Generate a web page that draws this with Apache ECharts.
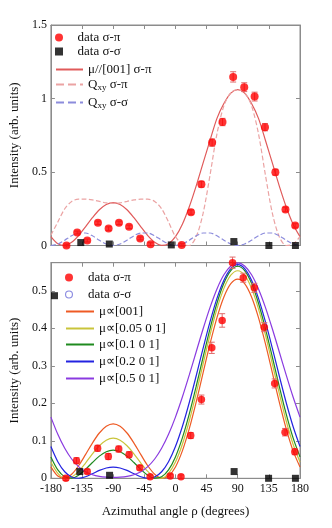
<!DOCTYPE html>
<html>
<head>
<meta charset="utf-8">
<script src="https://cdn.jsdelivr.net/npm/echarts@6/dist/echarts.min.js"></script>
<style>
html, body { margin: 0; padding: 0; background: #fff; }
#chart { width: 332px; height: 528px; }
</style>
</head>
<body>
<div id="chart"></div>
<script>
// angles for the fitted curves (degrees)
var curveAngles = [-180, -170, -160, -150, -140, -130, -120, -110, -100, -90, -80, -70, -60, -50, -40, -30, -20, -10, 0,
    10, 20, 30, 40, 50, 60, 70, 80, 90, 100, 110, 120, 130, 140, 150, 160, 170, 180];
var xTicks = [-180, 180, 45];

// ---- top panel ----
var topPiAngle = [-157.5, -142, -127.5, -112, -96.6, -81.6, -67, -51, -36, 9, 22.5, 37.5, 53, 68, 83.4, 99.4, 114.4, 129.4, 144.4, 159, 173];
var topPiValue = [0, 0.088, 0.034, 0.154, 0.115, 0.154, 0.127, 0.048, 0.009, 0.004, 0.227, 0.417, 0.70, 0.84, 1.147, 1.077, 1.013, 0.805, 0.499, 0.245, 0.136];
var topPiErr = [0.01, 0.01, 0.01, 0.012, 0.012, 0.012, 0.012, 0.01, 0.01, 0.01, 0.015, 0.02, 0.025, 0.025, 0.035, 0.03, 0.03, 0.025, 0.02, 0.015, 0.012];
var topSigAngle = [-136.8, -95.6, -6, 84.4, 135, 173.4];
var topSigValue = [0.02, 0.01, 0.004, 0.027, 0, 0];

var topMu001 = [0.060, 0.0118, 0.0006, 0.0218, 0.0674, 0.127, 0.189, 0.243, 0.279, 0.292,
    0.279, 0.243, 0.189, 0.127, 0.0674, 0.0218, 0.0006, 0.0118, 0.060,
    0.145, 0.264, 0.406, 0.562, 0.716, 0.865, 0.966, 1.037, 1.061,
    1.037, 0.966, 0.865, 0.716, 0.562, 0.406, 0.264, 0.145, 0.060];
var topQxyPi = [0.07, 0.16, 0.25, 0.30, 0.315, 0.315, 0.31, 0.30, 0.29, 0.287,
    0.29, 0.30, 0.31, 0.315, 0.315, 0.30, 0.25, 0.16, 0.06,
    0.01, 0.0, 0.06, 0.22, 0.48, 0.76, 0.95, 1.04, 1.06,
    1.04, 0.95, 0.76, 0.48, 0.22, 0.06, 0.0, 0.01, 0.06];
var topQxySig = [0, 0.010, 0.036, 0.066, 0.085, 0.085, 0.066, 0.036, 0.010, 0,
    0.010, 0.036, 0.066, 0.085, 0.085, 0.066, 0.036, 0.010, 0,
    0.010, 0.036, 0.066, 0.085, 0.085, 0.066, 0.036, 0.010, 0,
    0.010, 0.036, 0.066, 0.085, 0.085, 0.066, 0.036, 0.010, 0];

// ---- bottom panel ----
var botPiAngle = [-158.4, -143, -127.5, -112.5, -97, -82, -67, -51.6, -36.6, -7.5, 8, 22, 37.5, 52.5, 67.5, 82.5, 98, 114, 128.4, 143.4, 158.4, 172.5];
var botPiValue = [0, 0.047, 0.018, 0.08, 0.058, 0.078, 0.063, 0.028, 0.004, 0.006, 0.004, 0.114, 0.21, 0.348, 0.421, 0.575, 0.535, 0.508, 0.403, 0.253, 0.123, 0.071];
var botPiErr = [0.006, 0.008, 0.006, 0.008, 0.008, 0.008, 0.008, 0.006, 0.005, 0.005, 0.005, 0.008, 0.012, 0.015, 0.018, 0.015, 0.012, 0.012, 0.012, 0.012, 0.01, 0.008];
var botSigAngle = [-174.8, -138.3, -95.2, 84.8, 134.6, 173.4];
var botSigValue = [0.487, 0.018, 0.008, 0.018, 0, 0];

var bot001 = [0.0303, 0.0060, 0.0002, 0.0107, 0.0334, 0.0631, 0.0940, 0.1208, 0.1388, 0.1452,
    0.1388, 0.1208, 0.0940, 0.0631, 0.0334, 0.0107, 0.0002, 0.0060, 0.0303,
    0.0731, 0.1323, 0.2039, 0.2817, 0.3589, 0.4285, 0.4837, 0.5193, 0.5314,
    0.5193, 0.4837, 0.4285, 0.3589, 0.2817, 0.2039, 0.1323, 0.0731, 0.0303];
var bot005 = [0.0435, 0.0133, 0.0006, 0.0035, 0.0184, 0.0407, 0.0651, 0.0868, 0.1017, 0.1069,
    0.1017, 0.0868, 0.0651, 0.0407, 0.0184, 0.0035, 0.0006, 0.0133, 0.0435,
    0.0909, 0.1534, 0.2269, 0.3055, 0.3828, 0.4519, 0.5065, 0.5416, 0.5535,
    0.5416, 0.5065, 0.4519, 0.3828, 0.3055, 0.2269, 0.1534, 0.0909, 0.0435];
var bot01 = [0.0571, 0.0225, 0.0040, 0.0003, 0.0082, 0.0237, 0.0421, 0.0591, 0.0709, 0.0751,
    0.0709, 0.0591, 0.0421, 0.0237, 0.0082, 0.0003, 0.0040, 0.0225, 0.0571,
    0.1077, 0.1717, 0.2455, 0.3235, 0.3994, 0.4669, 0.5200, 0.5538, 0.5655,
    0.5538, 0.5200, 0.4669, 0.3994, 0.3235, 0.2455, 0.1717, 0.1077, 0.0571];
var bot02 = [0.0847, 0.0443, 0.0175, 0.0035, 0.0001, 0.0041, 0.0123, 0.0210, 0.0275, 0.0299,
    0.0275, 0.0210, 0.0123, 0.0041, 0.0001, 0.0035, 0.0175, 0.0443, 0.0847,
    0.1381, 0.2022, 0.2735, 0.3473, 0.4178, 0.4800, 0.5285, 0.5594, 0.5700,
    0.5594, 0.5285, 0.4800, 0.4178, 0.3473, 0.2735, 0.2022, 0.1381, 0.0847];
var bot05 = [0.1632, 0.1173, 0.0800, 0.0515, 0.0312, 0.0176, 0.0095, 0.0051, 0.0031, 0.0025,
    0.0031, 0.0051, 0.0095, 0.0176, 0.0312, 0.0515, 0.0800, 0.1173, 0.1632,
    0.2167, 0.2757, 0.3376, 0.3988, 0.4559, 0.5050, 0.5427, 0.5664, 0.5746,
    0.5664, 0.5427, 0.5050, 0.4559, 0.3988, 0.3376, 0.2757, 0.2167, 0.1632];

var FONT = 'Liberation Serif';
var AXIS_GRAY = '#8c8c8c';
var SQUARE = 'path://M0,0L10,0L10,10L0,10Z';
// thin ring, used for the open-circle legend marker
var RING = 'path://M10,5A5,5,0,1,1,0,5A5,5,0,1,1,10,5ZM8.6,5A3.6,3.6,0,1,0,1.4,5A3.6,3.6,0,1,0,8.6,5Z';

function pairs(xs, ys) {
    return xs.map(function (x, i) { return [x, ys[i]]; });
}

function errBars(xs, ys, es, gi) {
    return {
        type: 'custom', name: 'err' + gi, xAxisIndex: gi * 2, yAxisIndex: gi * 2, z: 3,
        data: xs.map(function (x, i) { return [x, ys[i] - es[i], ys[i] + es[i]]; }),
        renderItem: function (params, api) {
            var lo = api.coord([api.value(0), api.value(1)]);
            var hi = api.coord([api.value(0), api.value(2)]);
            var st = { stroke: '#e06a6a', lineWidth: 1 };
            return {
                type: 'group', children: [
                    { type: 'line', shape: { x1: lo[0], y1: lo[1], x2: hi[0], y2: hi[1] }, style: st },
                    { type: 'line', shape: { x1: lo[0] - 3, y1: lo[1], x2: lo[0] + 3, y2: lo[1] }, style: st },
                    { type: 'line', shape: { x1: hi[0] - 3, y1: hi[1], x2: hi[0] + 3, y2: hi[1] }, style: st }
                ]
            };
        }
    };
}

function curve(name, ys, gi, color, type) {
    return {
        type: 'line', name: name, xAxisIndex: gi * 2, yAxisIndex: gi * 2,
        data: pairs(curveAngles, ys), smooth: 0.3, symbol: 'none', z: 2,
        lineStyle: { color: color, width: 1.2, type: type || 'solid' },
        itemStyle: { color: color }
    };
}

function xAx(gi, pos, labels, name) {
    return {
        type: 'value', gridIndex: gi, position: pos, min: xTicks[0], max: xTicks[1], interval: xTicks[2],
        name: name || '', nameLocation: 'middle', nameGap: 27,
        nameTextStyle: { fontFamily: FONT, fontSize: 13, color: '#111' },
        axisLine: { onZero: false, lineStyle: { color: AXIS_GRAY } },
        axisTick: { inside: true, length: 4, lineStyle: { color: AXIS_GRAY } },
        axisLabel: { show: labels, margin: 5, fontFamily: FONT, fontSize: 12, color: '#111' },
        splitLine: { show: false }
    };
}

function yAx(gi, pos, labels, max, interval) {
    return {
        type: 'value', gridIndex: gi, position: pos, min: 0, max: max, interval: interval,
        name: labels ? 'Intensity (arb. units)' : '', nameLocation: 'middle', nameGap: 22,
        nameTextStyle: { fontFamily: FONT, fontSize: 13, color: '#111' },
        axisLine: { show: true, onZero: false, lineStyle: { color: AXIS_GRAY } },
        axisTick: { inside: true, length: 4, lineStyle: { color: AXIS_GRAY } },
        axisLabel: { show: labels, margin: 4, showMaxLabel: max === 1.5, fontFamily: FONT, fontSize: 12, color: '#111' },
        splitLine: { show: false }
    };
}

var legendRich = {
    n: { fontFamily: FONT, fontSize: 13, color: '#111' },
    s: { fontFamily: FONT, fontSize: 9, color: '#111', verticalAlign: 'bottom', padding: [7, 0, 0, 0] }
};

function leg(name, left, center, width, extra) {
    var item = { name: name };
    if (extra) { for (var k in extra) item[k] = extra[k]; }
    return {
        data: [item], left: left, top: center - 8, orient: 'vertical', padding: 0,
        itemWidth: width, itemHeight: 8, selectedMode: false,
        textStyle: { fontFamily: FONT, fontSize: 13, color: '#111', rich: legendRich },
        formatter: function (n) {
            if (n.indexOf('Qxy') === 0) return '{n|Q}{s|xy}{n|' + n.slice(3) + '}';
            return n;
        }
    };
}

var lineOnly = { itemStyle: { opacity: 0 } };

var option = {
    animation: false,
    backgroundColor: '#fff',
    grid: [
        { left: 44, right: 32, top: 25, height: 220.5, show: true, borderColor: AXIS_GRAY, borderWidth: 1 },
        { left: 44, right: 32, top: 262.7, height: 215.6, show: true, borderColor: AXIS_GRAY, borderWidth: 1 }
    ],
    xAxis: [xAx(0, 'bottom', false), xAx(0, 'top', false), xAx(1, 'bottom', true, 'Azimuthal angle ρ (degrees)'), xAx(1, 'top', false)],
    yAxis: [yAx(0, 'left', true, 1.5, 0.5), yAx(0, 'right', false, 1.5, 0.5), yAx(1, 'left', true, 0.575, 0.1), yAx(1, 'right', false, 0.575, 0.1)],
    legend: [
        leg('data σ-π', 55, 39, 27),
        leg('data σ-σ', 55, 53, 27, { icon: SQUARE }),
        leg('μ//[001] σ-π', 55, 71, 27, lineOnly),
        leg('Qxy σ-π', 55, 86, 27, lineOnly),
        leg('Qxy σ-σ', 55, 104, 27, lineOnly),
        leg('data σ-π', 65, 279, 28),
        leg('data σ-σ', 65, 296, 28, { icon: RING, itemStyle: { color: '#6a6ad8', borderWidth: 0 } }),
        leg('μ∝[001]', 65, 313, 28, lineOnly),
        leg('μ∝[0.05 0 1]', 65, 330, 28, lineOnly),
        leg('μ∝[0.1 0 1]', 65, 346, 28, lineOnly),
        leg('μ∝[0.2 0 1]', 65, 363, 28, lineOnly),
        leg('μ∝[0.5 0 1]', 65, 380, 28, lineOnly)
    ],
    series: [
        curve('μ//[001] σ-π', topMu001, 0, '#e05a5a'),
        curve('Qxy σ-π', topQxyPi, 0, '#eba3a3', 'dashed'),
        curve('Qxy σ-σ', topQxySig, 0, '#8c8cdc', 'dashed'),
        errBars(topPiAngle, topPiValue, topPiErr, 0),
        {
            type: 'scatter', name: 'data σ-π', xAxisIndex: 0, yAxisIndex: 0, z: 4, clip: false,
            data: pairs(topPiAngle, topPiValue), symbol: 'circle', symbolSize: 8, itemStyle: { color: '#ff0000' }
        },
        {
            type: 'scatter', name: 'data σ-σ', xAxisIndex: 0, yAxisIndex: 0, z: 4, clip: false,
            data: pairs(topSigAngle, topSigValue), symbol: 'rect', symbolSize: 7, itemStyle: { color: '#000' }
        },

        curve('μ∝[001]', bot001, 1, '#ee5a24'),
        curve('μ∝[0.05 0 1]', bot005, 1, '#c9c43a'),
        curve('μ∝[0.1 0 1]', bot01, 1, '#1f8a1f'),
        curve('μ∝[0.2 0 1]', bot02, 1, '#2323e0'),
        curve('μ∝[0.5 0 1]', bot05, 1, '#8a3ae0'),
        errBars(botPiAngle, botPiValue, botPiErr, 1),
        {
            type: 'scatter', name: 'data σ-π', xAxisIndex: 2, yAxisIndex: 2, z: 4, clip: false,
            data: pairs(botPiAngle, botPiValue), symbol: 'circle', symbolSize: 7.5, itemStyle: { color: '#ff0000' }
        },
        {
            type: 'scatter', name: 'data σ-σ', xAxisIndex: 2, yAxisIndex: 2, z: 4, clip: false,
            data: pairs(botSigAngle, botSigValue), symbol: 'rect', symbolSize: 7, itemStyle: { color: '#000' }
        }
    ]
};

var chart = echarts.init(document.getElementById('chart'));
chart.setOption(option);
</script>
</body>
</html>
